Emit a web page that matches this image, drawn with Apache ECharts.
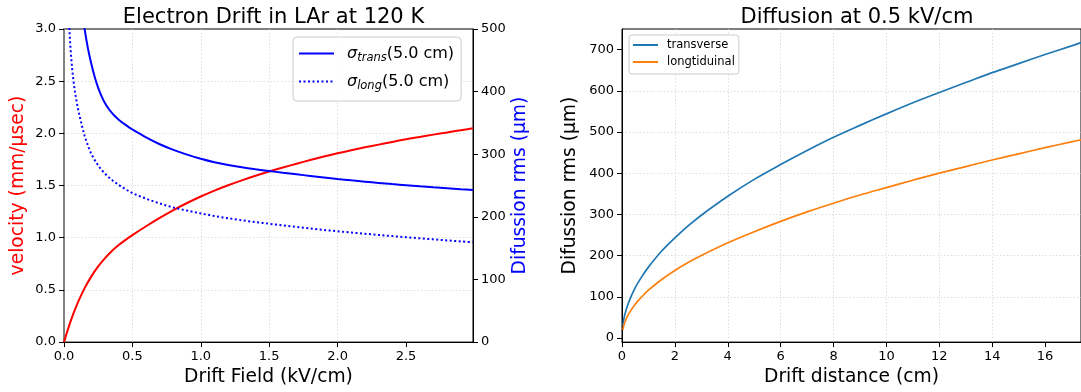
<!DOCTYPE html>
<html><head><meta charset="utf-8">
<script src="https://cdn.jsdelivr.net/npm/echarts@6/dist/echarts.min.js"></script>
<style>html,body{margin:0;padding:0;background:#fff}#c{width:1081px;height:392px}</style>
</head><body><div id="c"></div>
<script>
// ---- Left panel: Electron Drift in LAr at 120 K ----
const velField = [0, 0.05, 0.1, 0.15, 0.2, 0.25, 0.3, 0.35, 0.4, 0.45, 0.5, 0.6, 0.7, 0.8, 0.9, 1.0, 1.1, 1.2, 1.3, 1.4, 1.5, 1.6, 1.7, 1.8, 1.9, 2.0, 2.1, 2.2, 2.3, 2.4, 2.5, 2.6, 2.7, 2.8, 2.9, 2.99];
const velocity = [0, 0.205, 0.375, 0.515, 0.63, 0.725, 0.805, 0.873, 0.93, 0.98, 1.025, 1.11, 1.19, 1.265, 1.333, 1.395, 1.452, 1.503, 1.55, 1.594, 1.635, 1.673, 1.709, 1.744, 1.778, 1.81, 1.839, 1.866, 1.892, 1.918, 1.943, 1.966, 1.988, 2.009, 2.03, 2.048];
const transField = [0.125, 0.15, 0.175, 0.2, 0.225, 0.25, 0.275, 0.3, 0.325, 0.35, 0.375, 0.4, 0.425, 0.45, 0.475, 0.5, 0.6, 0.7, 0.8, 0.9, 1.0, 1.1, 1.2, 1.3, 1.4, 1.5, 1.6, 1.7, 1.8, 1.9, 2.0, 2.1, 2.2, 2.3, 2.4, 2.5, 2.6, 2.7, 2.8, 2.9, 2.99];
const sigmaTrans = [540, 501, 469, 444, 423, 406, 392.5, 381.5, 373, 366, 360.2, 355.2, 350.8, 346.8, 343, 339.5, 327, 316, 307, 299.4, 292.7, 287.1, 282.7, 279.1, 276, 273.2, 270.5, 267.9, 265.4, 262.95, 260.55, 258.3, 256.2, 254.2, 252.3, 250.5, 248.8, 247.2, 245.7, 244.25, 243];
const longField = [0.03, 0.04, 0.05, 0.06, 0.07, 0.08, 0.1, 0.125, 0.15, 0.175, 0.2, 0.25, 0.3, 0.35, 0.4, 0.45, 0.5, 0.6, 0.7, 0.8, 0.9, 1.0, 1.1, 1.2, 1.3, 1.4, 1.5, 1.6, 1.7, 1.8, 1.9, 2.0, 2.1, 2.2, 2.3, 2.4, 2.5, 2.6, 2.7, 2.8, 2.9, 2.99];
const sigmaLong = [545, 497, 462, 436, 416, 400, 375, 351, 330, 314, 300.5, 282, 269, 259, 251, 244, 238, 229, 221.5, 215, 210, 205.5, 201.4, 197.8, 194.6, 191.6, 189, 186.3, 183.8, 181.4, 179.1, 177, 174.95, 173, 171.1, 169.25, 167.5, 165.75, 164.05, 162.4, 160.8, 159.35];
const fieldTicks = [0, 0.5, 1.0, 1.5, 2.0, 2.5];
const velTicks = [0, 0.5, 1.0, 1.5, 2.0, 2.5, 3.0];
const diffTicksLeft = [0, 100, 200, 300, 400, 500];
const legendLeft = ['σtrans(5.0 cm)', 'σlong(5.0 cm)'];

// ---- Right panel: Diffusion at 0.5 kV/cm ----
const distance = [0.03, 0.1, 0.25, 0.5, 0.75, 1, 1.5, 2, 2.5, 3, 4, 5, 6, 7, 8, 9, 10, 11, 12, 13, 14, 15, 16, 17, 17.36];
const transverse = [30, 55, 86, 122, 149, 172, 211, 243, 272, 298, 344, 385, 421, 455, 487, 516, 544, 571, 596, 620, 644, 666, 688, 709, 717];
const longitudinal = [20, 37, 58, 82, 100, 116, 142, 164, 183, 200, 231, 258, 283, 306, 327, 347, 365, 383, 400, 416, 432, 447, 462, 476, 481];
const distTicks = [0, 2, 4, 6, 8, 10, 12, 14, 16];
const diffTicksRight = [0, 100, 200, 300, 400, 500, 600, 700];
const legendRight = ['transverse', 'longtiduinal'];

const FONT = 'DejaVu Sans';
const SMOOTH = 0.33;
const zip = (xs, ys) => xs.map((x, i) => [x, ys[i]]);
const gridLine = { show: true, lineStyle: { color: '#d6d6d6', width: 0.8, type: [1.5, 2] } };
const tickLbl = { fontFamily: FONT, fontSize: 13, color: '#000', margin: 8 };
const tick = { show: true, inside: false, length: 5, lineStyle: { color: '#000', width: 1 } };
const nameStyle = (c) => ({ fontFamily: FONT, fontSize: 18.7, color: c });

const chart = echarts.init(document.getElementById('c'), null, { renderer: 'canvas' });
chart.setOption({
  animation: false,
  backgroundColor: '#fff',
  title: [
    { text: 'Electron Drift in LAr at 120 K', left: 268.5, textAlign: 'center', top: 2,
      textStyle: { fontFamily: FONT, fontSize: 21, fontWeight: 'normal', color: '#000' } },
    { text: 'Diffusion at 0.5 kV/cm', left: 852, textAlign: 'center', top: 2,
      textStyle: { fontFamily: FONT, fontSize: 21, fontWeight: 'normal', color: '#000' } }
  ],
  grid: [
    { left: 64, top: 29, width: 409, height: 315, show: true, borderColor: '#000', borderWidth: 1, containLabel: false },
    { left: 622, top: 29, width: 460, height: 315, show: true, borderColor: '#000', borderWidth: 1, containLabel: false }
  ],
  legend: [
    { data: legendLeft, orient: 'vertical', left: 293, top: 37, itemWidth: 35, itemHeight: 14, itemGap: 7,
      padding: [6, 7, 9, 5], backgroundColor: 'rgba(255,255,255,0.85)', borderColor: '#cccccc', borderWidth: 1, borderRadius: 4,
      itemStyle: { opacity: 0 },
      formatter: (n) => n.startsWith('σtrans') ? '{i|σ}{s|trans}{n|(5.0 cm)}' : '{i|σ}{s|long}{n|(5.0 cm)}',
      textStyle: { fontFamily: FONT, fontSize: 16, color: '#000', padding: [0, 0, 0, 8],
        rich: {
          i: { fontFamily: FONT, fontSize: 16, fontStyle: 'italic', color: '#000', lineHeight: 22 },
          s: { fontFamily: FONT, fontSize: 11.5, fontStyle: 'italic', color: '#000', padding: [9, 0, 0, 0], lineHeight: 22 },
          n: { fontFamily: FONT, fontSize: 16, color: '#000', lineHeight: 22 }
        } } },
    { data: legendRight, orient: 'vertical', left: 629, top: 35, itemWidth: 25, itemHeight: 10, itemGap: 3,
      padding: [3, 4, 5, 3], backgroundColor: 'rgba(255,255,255,0.85)', borderColor: '#cccccc', borderWidth: 1, borderRadius: 3,
      itemStyle: { opacity: 0 },
      textStyle: { fontFamily: FONT, fontSize: 11.5, color: '#000', lineHeight: 14, padding: [0, 0, 0, 4] } }
  ],
  xAxis: [
    { gridIndex: 0, type: 'value', min: 0, max: 2.99, interval: 0.5,
      name: 'Drift Field (kV/cm)', nameLocation: 'middle', nameGap: 25, nameTextStyle: nameStyle('#000'),
      axisLine: { show: true, onZero: false, lineStyle: { color: '#000', width: 1 } },
      axisTick: Object.assign({}, tick, { customValues: fieldTicks }),
      axisLabel: Object.assign({}, tickLbl, { customValues: fieldTicks, formatter: (v) => v.toFixed(1) }),
      splitLine: Object.assign({}, gridLine, { showMinLine: false, showMaxLine: false }) },
    { gridIndex: 1, type: 'value', min: 0, max: 17.36, interval: 2,
      name: 'Drift distance (cm)', nameLocation: 'middle', nameGap: 25, nameTextStyle: nameStyle('#000'),
      axisLine: { show: true, onZero: false, lineStyle: { color: '#000', width: 1 } },
      axisTick: Object.assign({}, tick, { customValues: distTicks }),
      axisLabel: Object.assign({}, tickLbl, { customValues: distTicks, formatter: (v) => String(v) }),
      splitLine: Object.assign({}, gridLine, { showMinLine: false, showMaxLine: false }) }
  ],
  yAxis: [
    { gridIndex: 0, type: 'value', position: 'left', min: 0, max: 3, interval: 0.5,
      name: 'velocity (mm/μsec)', nameLocation: 'middle', nameGap: 36, nameRotate: 90, nameTextStyle: nameStyle('#ff0000'),
      axisLine: { show: true, onZero: false, lineStyle: { color: '#808080', width: 2 } },
      axisTick: Object.assign({}, tick, { customValues: velTicks }),
      axisLabel: Object.assign({}, tickLbl, { customValues: velTicks, formatter: (v) => v.toFixed(1) }),
      splitLine: Object.assign({}, gridLine, { showMinLine: false, showMaxLine: false }) },
    { gridIndex: 0, type: 'value', position: 'right', min: 0, max: 500, interval: 100,
      name: 'Difussion rms (μm)', nameLocation: 'middle', nameGap: 38, nameRotate: 90, nameTextStyle: nameStyle('#0000ff'),
      axisLine: { show: true, onZero: false, lineStyle: { color: '#000', width: 1 } },
      axisTick: Object.assign({}, tick, { customValues: diffTicksLeft }),
      axisLabel: Object.assign({}, tickLbl, { customValues: diffTicksLeft, formatter: (v) => String(v) }),
      splitLine: { show: false } },
    { gridIndex: 1, type: 'value', position: 'left', min: -10, max: 750, minInterval: 100, maxInterval: 100, splitNumber: 7,
      name: 'Difussion rms (μm)', nameLocation: 'middle', nameGap: 42, nameRotate: 90, nameTextStyle: nameStyle('#000'),
      axisLine: { show: true, onZero: false, lineStyle: { color: '#000', width: 1 } },
      axisTick: Object.assign({}, tick, { customValues: diffTicksRight }),
      axisLabel: Object.assign({}, tickLbl, { customValues: diffTicksRight, formatter: (v) => String(v) }),
      splitLine: Object.assign({}, gridLine, { showMinLine: false, showMaxLine: false }) }
  ],
  series: [
    { type: 'line', name: 'velocity', xAxisIndex: 0, yAxisIndex: 0, data: zip(velField, velocity),
      symbol: 'none', smooth: SMOOTH, clip: true, lineStyle: { color: '#ff0000', width: 2 }, itemStyle: { color: '#ff0000' } },
    { type: 'line', name: legendLeft[0], xAxisIndex: 0, yAxisIndex: 1, data: zip(transField, sigmaTrans),
      symbol: 'none', smooth: SMOOTH, clip: true, lineStyle: { color: '#0000ff', width: 2 }, itemStyle: { color: '#0000ff' } },
    { type: 'line', name: legendLeft[1], xAxisIndex: 0, yAxisIndex: 1, data: zip(longField, sigmaLong),
      symbol: 'none', smooth: SMOOTH, clip: true, lineStyle: { color: '#0000ff', width: 2, type: [2, 2.5] }, itemStyle: { color: '#0000ff' } },
    { type: 'line', name: legendRight[0], xAxisIndex: 1, yAxisIndex: 2, data: zip(distance, transverse),
      symbol: 'none', smooth: SMOOTH, clip: true, lineStyle: { color: '#1f77b4', width: 1.7 }, itemStyle: { color: '#1f77b4' } },
    { type: 'line', name: legendRight[1], xAxisIndex: 1, yAxisIndex: 2, data: zip(distance, longitudinal),
      symbol: 'none', smooth: SMOOTH, clip: true, lineStyle: { color: '#ff7f0e', width: 1.7 }, itemStyle: { color: '#ff7f0e' } }
  ]
});
</script></body></html>
